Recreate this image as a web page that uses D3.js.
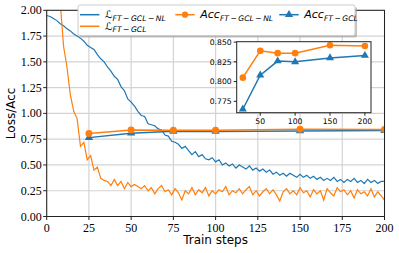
<!DOCTYPE html>
<html>
<head>
<meta charset="utf-8">
<script src="https://cdnjs.cloudflare.com/ajax/libs/d3/7.8.5/d3.min.js"></script>
<style>
  html, body { margin: 0; padding: 0; background: #fff; }
  svg { display: block; }
  .serif { font-family: "Liberation Serif", "DejaVu Serif", serif; }
</style>
</head>
<body>
<div id="graphicContainer"></div>
<script>
// ---- data ----
var lossStep = 2  // loss curves logged every 2 train steps, from 0 to 200

var lossNL = [
  1.95, 1.94, 1.92, 1.90, 1.87, 1.85, 1.82, 1.80, 1.77, 1.75,
  1.73, 1.70, 1.66, 1.64, 1.62, 1.57, 1.53, 1.50, 1.45, 1.41,
  1.36, 1.33, 1.26, 1.22, 1.14, 1.11, 1.07, 1.02, 0.98, 0.97,
  0.90, 0.89, 0.88, 0.85, 0.84, 0.79, 0.78, 0.73, 0.72, 0.70,
  0.66, 0.68, 0.64, 0.60, 0.63, 0.58, 0.60, 0.56, 0.55, 0.57,
  0.53, 0.55, 0.50, 0.52, 0.49, 0.51, 0.47, 0.50, 0.48, 0.46,
  0.49, 0.45, 0.47, 0.44, 0.46, 0.43, 0.45, 0.41, 0.43, 0.40,
  0.42, 0.39, 0.42, 0.40, 0.38, 0.41, 0.38, 0.40, 0.37, 0.39,
  0.36, 0.38, 0.35, 0.37, 0.35, 0.38, 0.34, 0.36, 0.33, 0.36,
  0.34, 0.37, 0.33, 0.35, 0.32, 0.36, 0.33, 0.35, 0.32, 0.34,
  0.34
]

var lossGCL = [
  3.40, 3.00, 2.70, 2.40, 2.08, 1.65, 1.45, 1.18, 1.02, 0.95,
  0.68, 0.72, 0.55, 0.59, 0.45, 0.48, 0.37, 0.35, 0.34, 0.30,
  0.36, 0.30, 0.34, 0.27, 0.33, 0.29, 0.31, 0.29, 0.27, 0.30,
  0.25, 0.28, 0.22, 0.27, 0.30, 0.24, 0.26, 0.21, 0.27, 0.23,
  0.16, 0.25, 0.22, 0.28, 0.21, 0.26, 0.23, 0.28, 0.20, 0.25,
  0.22, 0.26, 0.24, 0.29, 0.21, 0.25, 0.23, 0.27, 0.22, 0.26,
  0.29, 0.21, 0.25, 0.20, 0.24, 0.27, 0.22, 0.26, 0.21, 0.15,
  0.24, 0.27, 0.22, 0.25, 0.21, 0.28, 0.23, 0.25, 0.19, 0.26,
  0.22, 0.25, 0.16, 0.27, 0.23, 0.20, 0.28, 0.24, 0.26, 0.21,
  0.25, 0.18, 0.26, 0.22, 0.24, 0.20, 0.27, 0.19, 0.24, 0.20,
  0.16
]

var accSteps = [25, 50, 75, 100, 150, 200]
var accNL = [0.805, 0.839, 0.836, 0.836, 0.846, 0.845]
var accGCL = [0.765, 0.808, 0.826, 0.825, 0.830, 0.833]

var xTicks = [0, 25, 50, 75, 100, 125, 150, 175, 200]
var yTicks = [0, 0.25, 0.5, 0.75, 1, 1.25, 1.5, 1.75, 2]
var insetXTicks = [50, 100, 150, 200]
var insetYTicks = [0.775, 0.8, 0.825, 0.85]

var blue = "#1f77b4"
var orange = "#ff7f0e"

// ---- chart ----
var width = 399, height = 253
var margin = { top: 10.3, right: 14.5, bottom: 36.5, left: 46.7 }

var svg = d3.select("#graphicContainer").append("svg")
  .attr("width", width)
  .attr("height", height)

var x = d3.scaleLinear()
  .domain([0, 200])
  .range([margin.left, width - margin.right])

var y = d3.scaleLinear()
  .domain([0, 2])
  .range([height - margin.bottom, margin.top])

svg.append("defs").append("clipPath")
  .attr("id", "mainClip")
  .append("rect")
  .attr("x", x(0)).attr("y", y(2))
  .attr("width", x(200) - x(0)).attr("height", y(0) - y(2))

// grid
var grid = svg.append("g").attr("stroke", "#d3d3d3").attr("stroke-width", 1.2)
grid.selectAll(".gx").data(xTicks).enter().append("line")
  .attr("x1", d => x(d)).attr("x2", d => x(d))
  .attr("y1", y(0)).attr("y2", y(2))
grid.selectAll(".gy").data(yTicks).enter().append("line")
  .attr("x1", x(0)).attr("x2", x(200))
  .attr("y1", d => y(d)).attr("y2", d => y(d))

var plot = svg.append("g").attr("clip-path", "url(#mainClip)")

var lossLine = d3.line()
  .x((d, i) => x(i * lossStep))
  .y(d => y(d))

plot.append("path").datum(lossNL)
  .attr("d", lossLine)
  .attr("fill", "none").attr("stroke", blue).attr("stroke-width", 1.2)

plot.append("path").datum(lossGCL)
  .attr("d", lossLine)
  .attr("fill", "none").attr("stroke", orange).attr("stroke-width", 1.2)

function drawAcc(g, xs, ys, values, colour, shape, size) {
  var line = d3.line().x((d, i) => xs(accSteps[i])).y(d => ys(d))
  g.append("path").datum(values)
    .attr("d", line)
    .attr("fill", "none").attr("stroke", colour).attr("stroke-width", 1.5)
  g.selectAll(null).data(values).enter().append("path")
    .attr("transform", (d, i) => `translate(${xs(accSteps[i])},${ys(d)})`)
    .attr("d", d3.symbol().type(shape).size(size))
    .attr("fill", colour)
}

drawAcc(plot, x, y, accGCL, blue, d3.symbolTriangle, 30)
drawAcc(plot, x, y, accNL, orange, d3.symbolCircle, 38)

// spines
var spines = svg.append("g").attr("stroke", "#222").attr("stroke-width", 1).attr("fill", "none")
spines.append("rect")
  .attr("x", x(0)).attr("y", y(2))
  .attr("width", x(200) - x(0)).attr("height", y(0) - y(2))

// ticks
svg.append("g").selectAll("line").data(xTicks).enter().append("line")
  .attr("x1", d => x(d)).attr("x2", d => x(d))
  .attr("y1", y(0)).attr("y2", y(0) + 3.5)
  .attr("stroke", "#222")
svg.append("g").selectAll("line").data(yTicks).enter().append("line")
  .attr("x1", x(0) - 3.5).attr("x2", x(0))
  .attr("y1", d => y(d)).attr("y2", d => y(d))
  .attr("stroke", "#222")

svg.append("g").selectAll("text").data(xTicks).enter().append("text")
  .attr("class", "serif")
  .attr("x", d => x(d)).attr("y", y(0) + 15)
  .attr("text-anchor", "middle")
  .attr("font-size", 12)
  .text(d => d)

svg.append("g").selectAll("text").data(yTicks).enter().append("text")
  .attr("class", "serif")
  .attr("x", x(0) - 5).attr("y", d => y(d) + 4)
  .attr("text-anchor", "end")
  .attr("font-size", 12)
  .text(d => d3.format(".2f")(d))

svg.append("text")
  .attr("x", (x(0) + x(200)) / 2).attr("y", 244)
  .attr("text-anchor", "middle")
  .attr("font-family", "DejaVu Sans")
  .attr("font-size", 12)
  .text("Train steps")

svg.append("text")
  .attr("transform", `translate(15,${(y(0) + y(2)) / 2}) rotate(-90)`)
  .attr("text-anchor", "middle")
  .attr("font-family", "DejaVu Sans")
  .attr("font-size", 12)
  .text("Loss/Acc")

// ---- inset ----
var xi = d3.scaleLinear().domain([16.25, 208.75]).range([236.7, 371])
var yi = d3.scaleLinear().domain([0.7606, 0.8505]).range([112.7, 41.7])

svg.append("rect")
  .attr("x", xi.range()[0]).attr("y", yi.range()[1])
  .attr("width", xi.range()[1] - xi.range()[0])
  .attr("height", yi.range()[0] - yi.range()[1])
  .attr("fill", "#fff")

var inset = svg.append("g")
drawAcc(inset, xi, yi, accNL, orange, d3.symbolCircle, 34)
drawAcc(inset, xi, yi, accGCL, blue, d3.symbolTriangle, 28)

svg.append("rect")
  .attr("x", xi.range()[0]).attr("y", yi.range()[1])
  .attr("width", xi.range()[1] - xi.range()[0])
  .attr("height", yi.range()[0] - yi.range()[1])
  .attr("fill", "none").attr("stroke", "#222").attr("stroke-width", 1)

svg.append("g").selectAll("line").data(insetXTicks).enter().append("line")
  .attr("x1", d => xi(d)).attr("x2", d => xi(d))
  .attr("y1", yi.range()[0]).attr("y2", yi.range()[0] + 3)
  .attr("stroke", "#222")
svg.append("g").selectAll("line").data(insetYTicks).enter().append("line")
  .attr("x1", xi.range()[0] - 3).attr("x2", xi.range()[0])
  .attr("y1", d => yi(d)).attr("y2", d => yi(d))
  .attr("stroke", "#222")

svg.append("g").selectAll("text").data(insetXTicks).enter().append("text")
  .attr("x", d => xi(d)).attr("y", yi.range()[0] + 11.5)
  .attr("text-anchor", "middle")
  .attr("font-family", "DejaVu Sans")
  .attr("font-size", 7.7)
  .text(d => d)
svg.append("g").selectAll("text").data(insetYTicks).enter().append("text")
  .attr("x", xi.range()[0] - 5).attr("y", d => yi(d) + 2.8)
  .attr("text-anchor", "end")
  .attr("font-family", "DejaVu Sans")
  .attr("font-size", 7.7)
  .text(d => d3.format(".3f")(d))

// ---- legend ----
var legend = svg.append("g").attr("font-family", "DejaVu Sans")

legend.append("rect")
  .attr("x", 80).attr("y", 7).attr("width", 277).attr("height", 30.5)
  .attr("rx", 2).attr("fill", "#999").attr("opacity", 0.6)
legend.append("rect")
  .attr("x", 78).attr("y", 5).attr("width", 277).attr("height", 30.5)
  .attr("rx", 2).attr("fill", "#fff").attr("stroke", "#ccc").attr("stroke-width", 1)

var legendItems = [
  { colour: blue, shape: null, main: "\u2112", sub: "FT\u2009\u2212\u2009GCL\u2009\u2212\u2009NL", x: 80, y: 14.7 },
  { colour: orange, shape: null, main: "\u2112", sub: "FT\u2009\u2212\u2009GCL", x: 80, y: 26.3 },
  { colour: orange, shape: d3.symbolCircle, main: "Acc", sub: "FT\u2009\u2212\u2009GCL\u2009\u2212\u2009NL", x: 175.3, y: 14.7 },
  { colour: blue, shape: d3.symbolTriangle, main: "Acc", sub: "FT\u2009\u2212\u2009GCL", x: 279.3, y: 14.7 }
]

legendItems.forEach(function (item) {
  var g = legend.append("g")
  g.append("line")
    .attr("x1", item.x).attr("x2", item.x + 19.4)
    .attr("y1", item.y).attr("y2", item.y)
    .attr("stroke", item.colour).attr("stroke-width", 1.5)
  if (item.shape) {
    g.append("path")
      .attr("transform", `translate(${item.x + 9.7},${item.y})`)
      .attr("d", d3.symbol().type(item.shape).size(30))
      .attr("fill", item.colour)
  }
  var t = g.append("text")
    .attr("x", item.x + 25).attr("y", item.y + 3.6)
    .attr("font-style", "italic")
    .attr("font-size", item.shape ? 11 : 10.5)
  t.append("tspan").text(item.main)
  t.append("tspan").attr("dy", 2.2).attr("font-size", 7.6).text(item.sub)
})
</script>
</body>
</html>
